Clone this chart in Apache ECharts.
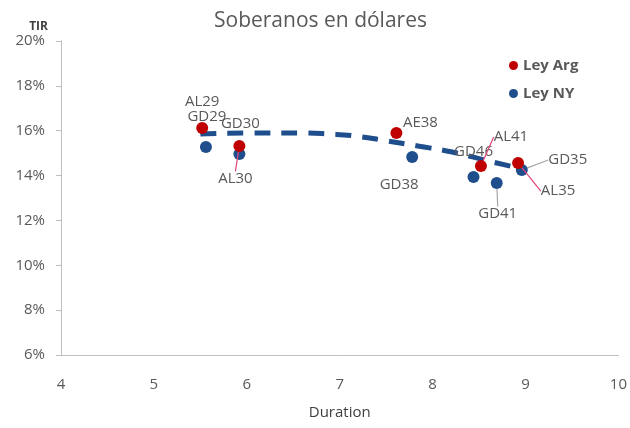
<!DOCTYPE html>
<html>
<head>
<meta charset="utf-8">
<script src="https://cdn.jsdelivr.net/npm/echarts@6/dist/echarts.min.js"></script>
<style>
  html, body { margin: 0; padding: 0; background: #fff; }
  #chart { width: 630px; height: 428px; }
</style>
</head>
<body>
<div id="chart"></div>
<script>
// Ley Arg (rojo)
const argNames = ['AL29', 'AL30', 'AE38', 'AL41', 'AL35']
const argDuration = [5.52, 5.92, 7.61, 8.52, 8.92]
const argTir = [16.12, 15.32, 15.9, 14.43, 14.56]

// Ley NY (azul)
const nyNames = ['GD29', 'GD30', 'GD38', 'GD46', 'GD41', 'GD35']
const nyDuration = [5.56, 5.92, 7.78, 8.44, 8.69, 8.96]
const nyTir = [15.27, 14.96, 14.83, 13.94, 13.67, 14.25]

// linea de tendencia
const trendDuration = [5.5, 6.04, 6.58, 6.9, 7.17, 7.49, 7.84, 8.21, 8.56, 8.88]
const trendTir = [15.85, 15.9, 15.9, 15.85, 15.76, 15.56, 15.32, 15.05, 14.69, 14.38]

const yTicks = [6, 8, 10, 12, 14, 16, 18, 20]
const xTicks = [4, 5, 6, 7, 8, 9, 10]

// desplazamiento de etiquetas (px) y si llevan linea guia
const labelShift = {
  AL29: [0, -26, false],
  AL30: [-4, 33, true],
  AE38: [24, -10, false],
  AL41: [30, -29, true],
  AL35: [40, 28, true],
  GD29: [1, -30, false],
  GD30: [1, -30, false],
  GD38: [-13, 28, false],
  GD46: [0, -25, false],
  GD41: [1, 31, true],
  GD35: [46, -10, true]
}

function points(names, xs, ys) {
  return names.map(function(n, i) {
    return {
      name: n,
      value: [xs[i], ys[i]],
      labelLine: { show: labelShift[n][2] }
    }
  })
}

function layoutFor(names) {
  return function(params) {
    const s = labelShift[names[params.dataIndex]]
    return { dx: s[0], dy: s[1] }
  }
}

const labelStyle = {
  show: true,
  position: 'inside',
  formatter: '{b}',
  color: '#595959',
  fontSize: 15,
  fontFamily: 'Open Sans'
}

const chart = echarts.init(document.getElementById('chart'))
chart.setOption({
  animation: false,
  backgroundColor: '#fff',
  title: {
    text: 'Soberanos en dólares',
    left: 209,
    top: 6,
    textStyle: {
      fontFamily: 'Open Sans',
      fontWeight: 'normal',
      fontSize: 21,
      color: '#595959'
    }
  },
  legend: {
    orient: 'vertical',
    left: 504,
    top: 53,
    itemGap: 13,
    itemWidth: 9,
    itemHeight: 9,
    icon: 'circle',
    data: ['Ley Arg', 'Ley NY'],
    textStyle: {
      fontFamily: 'Open Sans',
      fontWeight: 'bold',
      fontSize: 15,
      color: '#595959'
    }
  },
  grid: {
    left: 61,
    right: 11,
    top: 41,
    bottom: 73
  },
  xAxis: {
    type: 'value',
    min: xTicks[0],
    max: xTicks[xTicks.length - 1],
    interval: 1,
    name: 'Duration',
    nameLocation: 'middle',
    nameGap: 50,
    nameTextStyle: { fontFamily: 'Open Sans', fontSize: 15, color: '#404040' },
    axisLine: { lineStyle: { color: '#bfbfbf' } },
    axisTick: { show: false },
    splitLine: { show: false },
    axisLabel: { fontFamily: 'Open Sans', fontSize: 15, color: '#595959', margin: 22 }
  },
  yAxis: {
    type: 'value',
    min: yTicks[0],
    max: yTicks[yTicks.length - 1],
    interval: 2,
    name: 'TIR',
    nameLocation: 'end',
    nameGap: 8,
    nameTextStyle: {
      fontFamily: 'Open Sans',
      fontWeight: 'bold',
      fontSize: 12,
      color: '#404040',
      align: 'right',
      padding: [0, 13, 0, 0]
    },
    axisLine: { show: true, lineStyle: { color: '#bfbfbf' } },
    axisTick: { show: true, length: 5, lineStyle: { color: '#bfbfbf' } },
    splitLine: { show: false },
    axisLabel: {
      formatter: '{value}%',
      fontFamily: 'Open Sans',
      fontSize: 15,
      color: '#595959',
      margin: 16
    }
  },
  series: [
    {
      name: 'tendencia',
      type: 'line',
      smooth: true,
      symbol: 'none',
      silent: true,
      z: 1,
      data: trendDuration.map(function(d, i) { return [d, trendTir[i]] }),
      lineStyle: { color: '#1f4e8c', width: 5, type: [16, 11] }
    },
    {
      name: 'Ley Arg',
      type: 'scatter',
      symbolSize: 12,
      z: 3,
      itemStyle: { color: '#c00000', opacity: 1 },
      data: points(argNames, argDuration, argTir),
      label: labelStyle,
      labelLayout: layoutFor(argNames),
      labelLine: { lineStyle: { color: '#e0457a', width: 1.2 } }
    },
    {
      name: 'Ley NY',
      type: 'scatter',
      symbolSize: 12,
      z: 2,
      itemStyle: { color: '#1f4e8c', opacity: 1 },
      data: points(nyNames, nyDuration, nyTir),
      label: labelStyle,
      labelLayout: layoutFor(nyNames),
      labelLine: { lineStyle: { color: '#a6a6a6', width: 1.2 } }
    }
  ]
})
</script>
</body>
</html>
